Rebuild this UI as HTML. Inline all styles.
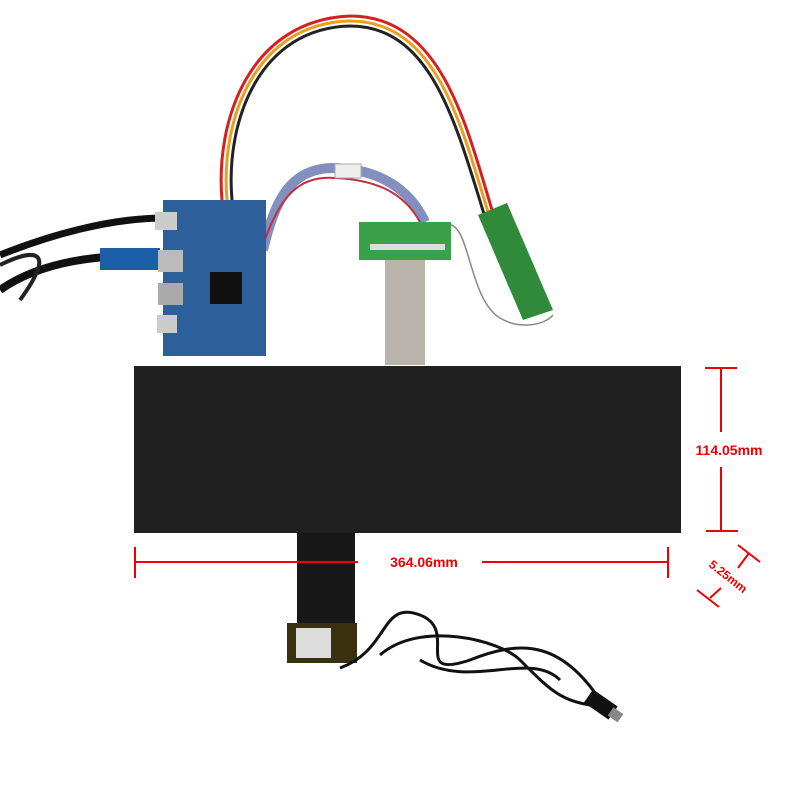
<!DOCTYPE html>
<html><head><style>html,body{margin:0;padding:0;background:#fff;width:800px;height:800px;overflow:hidden}</style></head>
<body>
<svg width="800" height="800" viewBox="0 0 800 800" xmlns="http://www.w3.org/2000/svg">
<rect width="800" height="800" fill="#fff"/>
<!-- wires arc -->
<path d="M222 200 C215 120 250 20 350 16 C440 16 465 120 492 210" fill="none" stroke="#d62020" stroke-width="3"/>
<path d="M227 200 C220 120 255 23 350 21 C435 21 460 120 488 212" fill="none" stroke="#e8a020" stroke-width="3"/>
<path d="M232 200 C225 120 260 28 350 26 C430 26 455 120 484 214" fill="none" stroke="#222" stroke-width="3"/>
<!-- black cables left -->
<path d="M0 255 C50 235 110 218 165 218" fill="none" stroke="#111" stroke-width="7"/>
<path d="M0 290 C40 262 100 252 165 258" fill="none" stroke="#111" stroke-width="8"/>
<path d="M0 265 C30 250 60 245 20 300" fill="none" stroke="#222" stroke-width="4"/>
<rect x="100" y="248" width="60" height="22" fill="#1a5fa8"/>
<!-- LVDS wires -->
<path d="M263 250 C275 200 290 170 330 168 C380 168 410 190 425 222" fill="none" stroke="#5a6aa8" stroke-width="10" opacity="0.75"/>
<path d="M263 245 C280 195 300 175 335 178 C380 180 405 195 420 222" fill="none" stroke="#c03040" stroke-width="2"/>
<rect x="335" y="164" width="26" height="14" fill="#eee" stroke="#aaa"/>
<!-- blue board -->
<rect x="163" y="200" width="103" height="156" fill="#2d5f9a"/>
<rect x="210" y="272" width="32" height="32" fill="#111"/>
<rect x="155" y="212" width="22" height="18" fill="#ccc"/>
<rect x="158" y="250" width="25" height="22" fill="#bbb"/>
<rect x="158" y="283" width="25" height="22" fill="#aaa"/>
<rect x="157" y="315" width="20" height="18" fill="#ccc"/>
<!-- green adapter -->
<rect x="359" y="222" width="92" height="38" fill="#3aa04a"/>
<rect x="370" y="244" width="75" height="6" fill="#ddd"/>
<rect x="385" y="260" width="40" height="105" fill="#b9b5ad"/>
<!-- right green board -->
<polygon points="478,215 507,203 553,310 523,320" fill="#2f8a3a"/>
<path d="M451 225 C470 230 470 300 500 318 C520 330 545 325 553 315" fill="none" stroke="#888" stroke-width="1.5"/>
<!-- panel -->
<rect x="134" y="366" width="547" height="167" fill="#202020"/>
<!-- flex + touch board -->
<rect x="297" y="533" width="58" height="90" fill="#181818"/>
<rect x="287" y="623" width="70" height="40" fill="#3a3010"/>
<rect x="296" y="628" width="35" height="30" fill="#ddd"/>
<!-- USB cable -->
<path d="M340 668 C390 650 380 600 420 615 C460 630 410 680 470 660 C520 640 560 640 600 700 M380 655 C420 620 500 640 520 660 C550 690 560 700 590 705 M420 660 C470 690 530 650 560 680" fill="none" stroke="#111" stroke-width="3"/>
<g transform="rotate(35 598 705)"><rect x="585" y="695" width="30" height="16" fill="#111"/><rect x="612" y="698" width="12" height="10" fill="#888"/></g>
<!-- dimensions -->
<g stroke="#e00" stroke-width="2" fill="none">
<line x1="135" y1="562" x2="358" y2="562"/>
<line x1="482" y1="562" x2="668" y2="562"/>
<line x1="135" y1="547" x2="135" y2="578"/>
<line x1="668" y1="547" x2="668" y2="578"/>
<line x1="721" y1="368" x2="721" y2="432"/>
<line x1="721" y1="467" x2="721" y2="531"/>
<line x1="705" y1="368" x2="737" y2="368"/>
<line x1="706" y1="531" x2="738" y2="531"/>
<line x1="738" y1="545" x2="760" y2="562"/>
<line x1="749" y1="553" x2="738" y2="568"/>
<line x1="697" y1="590" x2="719" y2="607"/>
<line x1="710" y1="598" x2="721" y2="588"/>
</g>
<g fill="#e00" font-family="'Liberation Sans',sans-serif" font-weight="bold" font-size="14">
<text x="424" y="567" text-anchor="middle">364.06mm</text>
<text x="729" y="455" text-anchor="middle">114.05mm</text>
<text x="0" y="0" font-size="12" transform="translate(708 566) rotate(38)">5.25mm</text>
</g>
</svg>
</body></html>
